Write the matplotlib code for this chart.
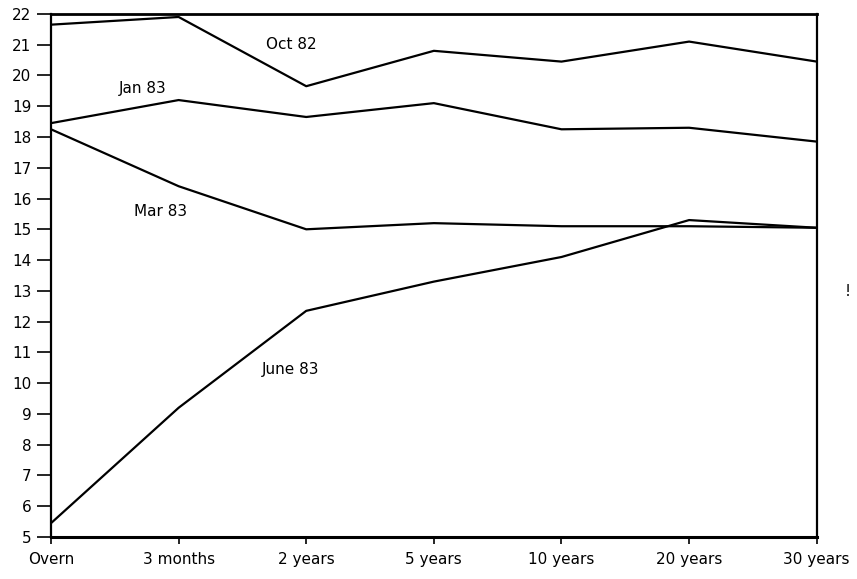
import matplotlib
matplotlib.use("Agg")
import matplotlib.pyplot as plt

categories = ["Overn", "3 months", "2 years", "5 years", "10 years", "20 years", "30 years"]
oct82 = [21.65, 21.9, 19.65, 20.8, 20.45, 21.1, 20.45]
jan83 = [18.45, 19.2, 18.65, 19.1, 18.25, 18.3, 17.85]
mar83 = [18.25, 16.4, 15.0, 15.2, 15.1, 15.1, 15.05]
jun83 = [5.45, 9.2, 12.35, 13.3, 14.1, 15.3, 15.05]
y_ticks = list(range(5, 23))

fig = plt.figure(figsize=(8.57, 5.79), dpi=100)
ax = fig.add_axes([0.0595, 0.0725, 0.8935, 0.9035])
x = list(range(len(categories)))
for s in (oct82, jan83, mar83, jun83):
    ax.plot(x, s, color="black", lw=1.6)

ax.set_xlim(0, len(categories) - 1)
ax.set_ylim(5, 22)
ax.set_yticks(y_ticks)
ax.set_yticklabels([str(t) for t in y_ticks], fontsize=11)
ax.set_xticks(x)
ax.set_xticklabels(categories, fontsize=11)
ax.tick_params(axis="y", length=10, width=1.2, pad=4)
ax.tick_params(axis="x", length=5, width=1.2, pad=6)
for sp in ax.spines.values():
    sp.set_linewidth(1.6)
ax.spines["bottom"].set_linewidth(2.2)
ax.spines["top"].set_linewidth(2.0)

ax.text(1.88, 21.0, "Oct 82", fontsize=11, ha="center", va="center")
ax.text(0.72, 19.58, "Jan 83", fontsize=11, ha="center", va="center")
ax.text(0.86, 15.58, "Mar 83", fontsize=11, ha="center", va="center")
ax.text(1.88, 10.45, "June 83", fontsize=11, ha="center", va="center")
fig.text(848 / 857, 1 - 292 / 579, "!", fontsize=11, ha="center", va="center")

fig.savefig("out.png", dpi=100, facecolor="white")
